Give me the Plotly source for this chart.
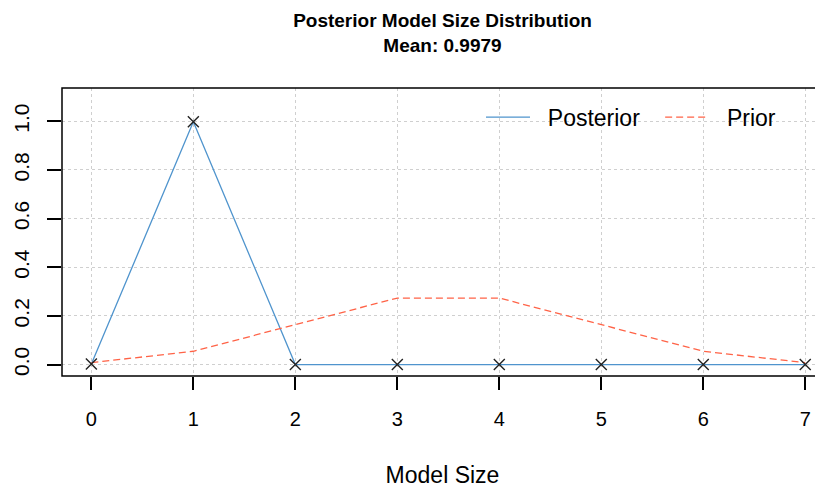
import plotly.graph_objects as go

model_size = [0, 1, 2, 3, 4, 5, 6, 7]
posterior = [0.0021, 0.9979, 0.0, 0.0, 0.0, 0.0, 0.0, 0.0]
prior = [0.0078, 0.0547, 0.1641, 0.2734, 0.2734, 0.1641, 0.0547, 0.0078]
x_ticks = [0, 1, 2, 3, 4, 5, 6, 7]
y_ticks = [0.0, 0.2, 0.4, 0.6, 0.8, 1.0]
y_ticklabels = ["0.0", "0.2", "0.4", "0.6", "0.8", "1.0"]

FONT = "Liberation Sans, Arial, sans-serif"
BLUE = "#4F94CD"
RED = "#FF6347"
PAD = "\u00a0\u00a0"

fig = go.Figure()
fig.add_trace(go.Scatter(
    x=model_size, y=posterior, name=PAD + "Posterior", mode="lines",
    line=dict(color=BLUE, width=1.3), legend="legend",
))
fig.add_trace(go.Scatter(
    x=model_size, y=prior, name=PAD + "Prior", mode="lines",
    line=dict(color=RED, width=1.3, dash="7px,4px"), legend="legend2",
))
fig.add_trace(go.Scatter(
    x=model_size, y=posterior, mode="markers", showlegend=False,
    marker=dict(symbol="x-thin", size=11, line=dict(color="#222222", width=1.4)),
))

W, H = 815, 480
leg_common = dict(
    orientation="h", xanchor="left", y=0.899, yanchor="middle",
    bgcolor="rgba(0,0,0,0)", font=dict(size=23, family=FONT), itemwidth=44,
)
fig.update_layout(
    width=W, height=H,
    margin=dict(l=54, r=0, t=80, b=112),
    paper_bgcolor="white", plot_bgcolor="white",
    font=dict(family=FONT, color="black"),
    title=dict(
        text="<b>Posterior Model Size Distribution<br>Mean: 0.9979</b>",
        x=0.5, xref="paper", xanchor="center",
        y=1 - 19 / H, yref="container", yanchor="middle",
        font=dict(size=19, family=FONT),
    ),
    legend=dict(x=0.5506, **leg_common),
    legend2=dict(x=0.786, **leg_common),
    xaxis=dict(
        range=[-0.288, 7.174], tickmode="array", tickvals=x_ticks,
        ticktext=[str(v) for v in x_ticks],
        showgrid=True, gridcolor="#cfcfcf", griddash="dot", gridwidth=1,
        zeroline=False, showline=False,
        ticks="outside", ticklen=13, tickwidth=1.5, tickcolor="black",
        tickfont=dict(size=20), ticklabelstandoff=12,
        title=dict(text="Model Size", font=dict(size=23), standoff=43),
    ),
    yaxis=dict(
        range=[-0.047, 1.137], tickmode="array", tickvals=y_ticks,
        ticktext=y_ticklabels, tickangle=-90,
        showgrid=True, gridcolor="#cfcfcf", griddash="dot", gridwidth=1,
        zeroline=False, showline=False,
        ticks="outside", ticklen=14, tickwidth=1.5, tickcolor="black",
        tickfont=dict(size=21), ticklabelstandoff=10,
    ),
    shapes=[dict(
        type="rect", xref="paper", yref="paper", x0=0, x1=1.05, y0=0, y1=1,
        line=dict(color="black", width=1.5), layer="above",
    )],
)

fig.write_html("out.html")
